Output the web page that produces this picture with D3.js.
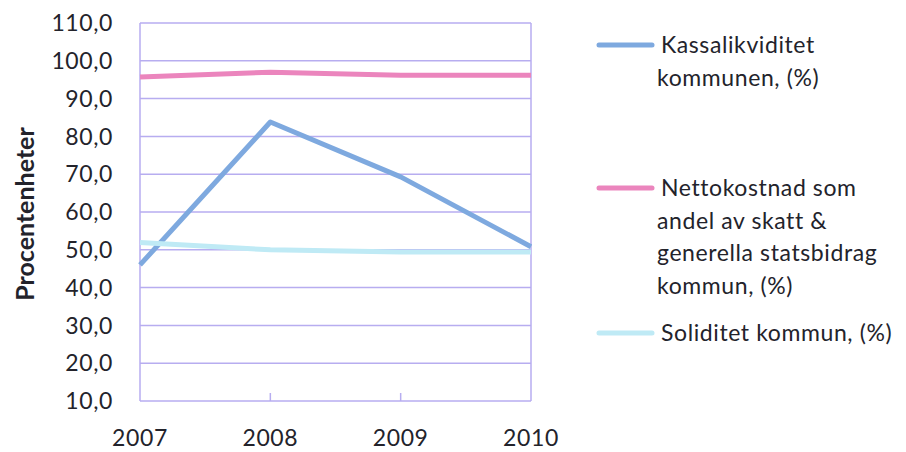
<!DOCTYPE html>
<html>
<head>
<meta charset="utf-8">
<script src="https://cdn.jsdelivr.net/npm/d3@7"></script>
<style>
  html, body { margin: 0; padding: 0; background: #ffffff; }
  svg { display: block; }
  text { font-family: Lato, "Open Sans", sans-serif; fill: #23232b; }
  .lbl { letter-spacing: 0.6px; }
</style>
</head>
<body>
<svg id="chart" width="906" height="452"></svg>
<script>
// Years on the category axis
const years = ["2007", "2008", "2009", "2010"];

// Series values (%)
const kassalikviditet = [46.0, 83.8, 69.3, 50.8];
const nettokostnad = [95.7, 97.0, 96.2, 96.2];
const soliditet = [51.9, 50.0, 49.4, 49.4];

// Y tick values
const yTicks = [10, 20, 30, 40, 50, 60, 70, 80, 90, 100, 110];

const seriesNames = [
  ["Kassalikviditet", "kommunen, (%)"],
  ["Nettokostnad som", "andel av skatt &", "generella statsbidrag", "kommun, (%)"],
  ["Soliditet kommun, (%)"]
];
const seriesColors = ["#7ea9df", "#eb85bd", "#bfeaf5"];

const series = [kassalikviditet, nettokostnad, soliditet];

const svg = d3.select("#chart");

const plot = { left: 140, right: 531, top: 23, bottom: 401 };

const x = d3.scalePoint().domain(years).range([plot.left, plot.right]);
const y = d3.scaleLinear().domain([10, 110]).range([plot.bottom, plot.top]);

const gridColor = "#b7adf0";

// Horizontal gridlines
svg.append("g")
  .selectAll("line")
  .data(yTicks)
  .join("line")
  .attr("x1", plot.left).attr("x2", plot.right)
  .attr("y1", d => y(d)).attr("y2", d => y(d))
  .attr("stroke", gridColor).attr("stroke-width", 1.5);

// Left and right frame lines
svg.append("line")
  .attr("x1", plot.left).attr("x2", plot.left)
  .attr("y1", plot.top).attr("y2", plot.bottom)
  .attr("stroke", gridColor).attr("stroke-width", 1.5);
svg.append("line")
  .attr("x1", plot.right).attr("x2", plot.right)
  .attr("y1", plot.top).attr("y2", plot.bottom)
  .attr("stroke", gridColor).attr("stroke-width", 1.5);

// Inner category ticks
svg.append("g")
  .selectAll("line")
  .data(years.slice(1, -1))
  .join("line")
  .attr("x1", d => x(d)).attr("x2", d => x(d))
  .attr("y1", plot.bottom).attr("y2", plot.bottom - 8)
  .attr("stroke", gridColor).attr("stroke-width", 1.5);

// Y axis labels
const fmt = d => d3.format(".1f")(d).replace(".", ",");
svg.append("g")
  .selectAll("text")
  .data(yTicks)
  .join("text")
  .attr("class", "lbl")
  .attr("x", 113)
  .attr("y", d => y(d))
  .attr("dy", "0.36em")
  .attr("text-anchor", "end")
  .attr("font-size", 23)
  .text(fmt);

// X axis labels
svg.append("g")
  .selectAll("text")
  .data(years)
  .join("text")
  .attr("class", "lbl")
  .attr("x", d => x(d))
  .attr("y", 446)
  .attr("text-anchor", "middle")
  .attr("font-size", 23)
  .text(d => d);

// Y axis title
svg.append("text")
  .attr("transform", "translate(34,214) rotate(-90)")
  .attr("text-anchor", "middle")
  .attr("font-size", 25)
  .attr("font-weight", "bold")
  .text("Procentenheter");

// Lines
const line = d3.line()
  .x((d, i) => x(years[i]))
  .y(d => y(d));

svg.append("g")
  .selectAll("path")
  .data(series)
  .join("path")
  .attr("d", d => line(d))
  .attr("fill", "none")
  .attr("stroke", (d, i) => seriesColors[i])
  .attr("stroke-width", 5)
  .attr("stroke-linejoin", "round");

// Legend
const legendRows = [45, 188, 333];
const legend = svg.append("g");
seriesNames.forEach((lines, i) => {
  const cy = legendRows[i];
  legend.append("line")
    .attr("x1", 599).attr("x2", 652)
    .attr("y1", cy).attr("y2", cy)
    .attr("stroke", seriesColors[i])
    .attr("stroke-width", 5)
    .attr("stroke-linecap", "round");
  lines.forEach((t, j) => {
    legend.append("text")
      .attr("class", "lbl")
      .attr("x", j === 0 ? 661 : 657)
      .attr("y", cy + 8 + j * 32.5)
      .attr("font-size", 23)
      .text(t);
  });
});
</script>
</body>
</html>
